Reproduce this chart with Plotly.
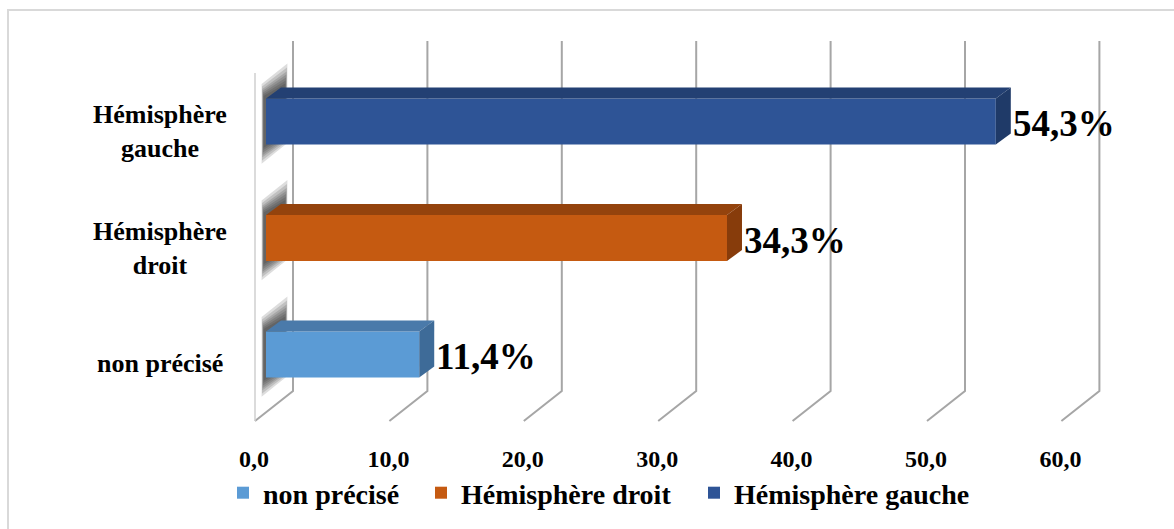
import plotly.graph_objects as go

# ---- data ----
categories = ["non précisé", "Hémisphère droit", "Hémisphère gauche"]
axis_labels = ["non précisé", "Hémisphère<br>droit", "Hémisphère<br>gauche"]
values = [11.4, 34.3, 54.3]
x_ticks = [0, 10, 20, 30, 40, 50, 60]
x_tick_labels = ["0,0", "10,0", "20,0", "30,0", "40,0", "50,0", "60,0"]

# ---- styling ----
front_colors = ["#5B9BD5", "#C55A11", "#2E5496"]
top_colors = ["#4A7AAA", "#94430D", "#234073"]
side_colors = ["#3E6B98", "#873C0B", "#1F3A68"]
FONT = "Liberation Serif"

W, H = 1174, 529
ML, MR, MT, MB = 252, 54, 30, 99
PW, PH = W - ML - MR, H - MT - MB

# pixel scales of the two axes
PX_X = 13.44          # px per percent
PX_Y = 116.5          # px per category step
X0_PX = 266           # pixel column of value 0 on the bar front plane
Y0_PX = 354.5         # pixel row of the first category centre

x_range = [(ML - X0_PX) / PX_X, (W - MR - X0_PX) / PX_X]
y_range = [(Y0_PX - (MT + PH)) / PX_Y, (Y0_PX - MT) / PX_Y]


def ux(px):
    return px / PX_X


def uy(px):
    return px / PX_Y


def yrow(px):
    return (Y0_PX - px) / PX_Y


BAR_W = 0.395
DX, DY = ux(15), uy(11)        # depth offset of the bar extrusion

fig = go.Figure()

# front faces
for i, (cat, v) in enumerate(zip(categories, values)):
    fig.add_trace(go.Bar(
        x=[v], y=[i], orientation="h", width=BAR_W, name=cat,
        marker=dict(color=front_colors[i], line=dict(width=0)),
        legend="legend" if i == 0 else f"legend{i + 1}",
        hoverinfo="skip",
    ))

# top and side faces of the extrusion
for i, v in enumerate(values):
    yt, yb = i + BAR_W / 2, i - BAR_W / 2
    fig.add_trace(go.Scatter(
        x=[0, v, v + DX, DX, 0], y=[yt, yt, yt + DY, yt + DY, yt],
        mode="lines", line=dict(width=0), fill="toself",
        fillcolor=top_colors[i], showlegend=False, hoverinfo="skip"))
    fig.add_trace(go.Scatter(
        x=[v, v + DX, v + DX, v, v], y=[yt, yt + DY, yb + DY, yb, yt],
        mode="lines", line=dict(width=0), fill="toself",
        fillcolor=side_colors[i], showlegend=False, hoverinfo="skip"))

shapes = []

# chart frame
shapes.append(dict(
    type="rect", xref="paper", yref="paper", layer="below",
    x0=(8 - ML) / PW, x1=(W + 10 - ML) / PW,
    y0=(MT + PH - 10) / PH, y1=(MT + PH - H - 10) / PH,
    line=dict(color="#D9D9D9", width=2), fillcolor="rgba(0,0,0,0)"))

# soft shadows cast on the side wall by the bar ends
for i in range(len(values)):
    yt, yb = i + BAR_W / 2, i - BAR_W / 2
    for e in [24, 20, 16, 13, 10, 7, 4]:
        ey = uy(e)
        ex = ux(e * 0.1)
        x_l, x_r = ux(-2) - ex, DX + ux(4) + ex
        path = (f"M {x_l},{yb - ey * 0.8} L {x_l},{yt + ey * 0.6} "
                f"L {x_r},{yt + DY + ey} L {x_r},{yb + DY - ey * 0.4} Z")
        shapes.append(dict(type="path", xref="x", yref="y", layer="below",
                           path=path, line=dict(width=0),
                           fillcolor="rgba(30,30,30,0.15)"))

# back-plane gridlines with their floor diagonals
BACK_OFF, FRONT_OFF = ux(27), ux(-11)
TOP_Y, BACK_Y, FRONT_Y = yrow(41), yrow(391), yrow(421)
for t in x_ticks:
    path = (f"M {t + FRONT_OFF},{FRONT_Y} L {t + BACK_OFF},{BACK_Y} "
            f"L {t + BACK_OFF},{TOP_Y}")
    shapes.append(dict(type="path", xref="x", yref="y", layer="below",
                       path=path, line=dict(color="#A6A6A6", width=2)))

# side wall front edge
shapes.append(dict(type="line", xref="x", yref="y", layer="below",
                   x0=FRONT_OFF, x1=FRONT_OFF, y0=yrow(73), y1=FRONT_Y,
                   line=dict(color="#CFCFCF", width=1.5)))

annotations = []

# value labels
for i, v in enumerate(values):
    annotations.append(dict(
        x=v, y=i, xref="x", yref="y", xanchor="left", yanchor="middle",
        xshift=15, yshift=-2, showarrow=False,
        text=f"{v:.1f}".replace(".", ",") + "%",
        font=dict(family=FONT, size=37, color="black", weight="bold")))

# category labels, centred left of the wall
LABEL_X = (160 - ML) / PW
for i, lab in enumerate(axis_labels):
    two_lines = "<br>" in lab
    annotations.append(dict(
        x=LABEL_X, y=i, xref="paper", yref="y", xanchor="center",
        yanchor="middle", align="center",
        yshift=-10 if two_lines else -8.5, showarrow=False, text=lab,
        font=dict(family=FONT, size=26, color="black", weight="bold")))

legend_font = dict(family=FONT, size=28, color="black", weight="bold")
legend_y = (MT + PH - 468) / PH
legend_px = [237, 435, 708]
legends = {}
for i, px in enumerate(legend_px):
    key = "legend" if i == 0 else f"legend{i + 1}"
    legends[key] = dict(
        x=(px - 14 - ML) / PW, y=legend_y, xanchor="left", yanchor="top",
        orientation="h", font=legend_font, bgcolor="rgba(0,0,0,0)",
        itemclick=False, itemdoubleclick=False)

fig.update_layout(
    width=W, height=H,
    margin=dict(l=ML, r=MR, t=MT, b=MB, autoexpand=False),
    paper_bgcolor="white", plot_bgcolor="white",
    barmode="overlay", showlegend=True,
    xaxis=dict(range=x_range, tickvals=x_ticks, ticktext=x_tick_labels,
               showgrid=False, zeroline=False, showline=False, ticks="",
               ticklabelshift=-12, ticklabelstandoff=12,
               tickfont=dict(family=FONT, size=24, color="black",
                             weight="bold"),
               fixedrange=True),
    yaxis=dict(range=y_range, showgrid=False, zeroline=False,
               showline=False, showticklabels=False, ticks="",
               fixedrange=True),
    shapes=shapes, annotations=annotations,
    **legends,
)

fig.write_html("out.html")
